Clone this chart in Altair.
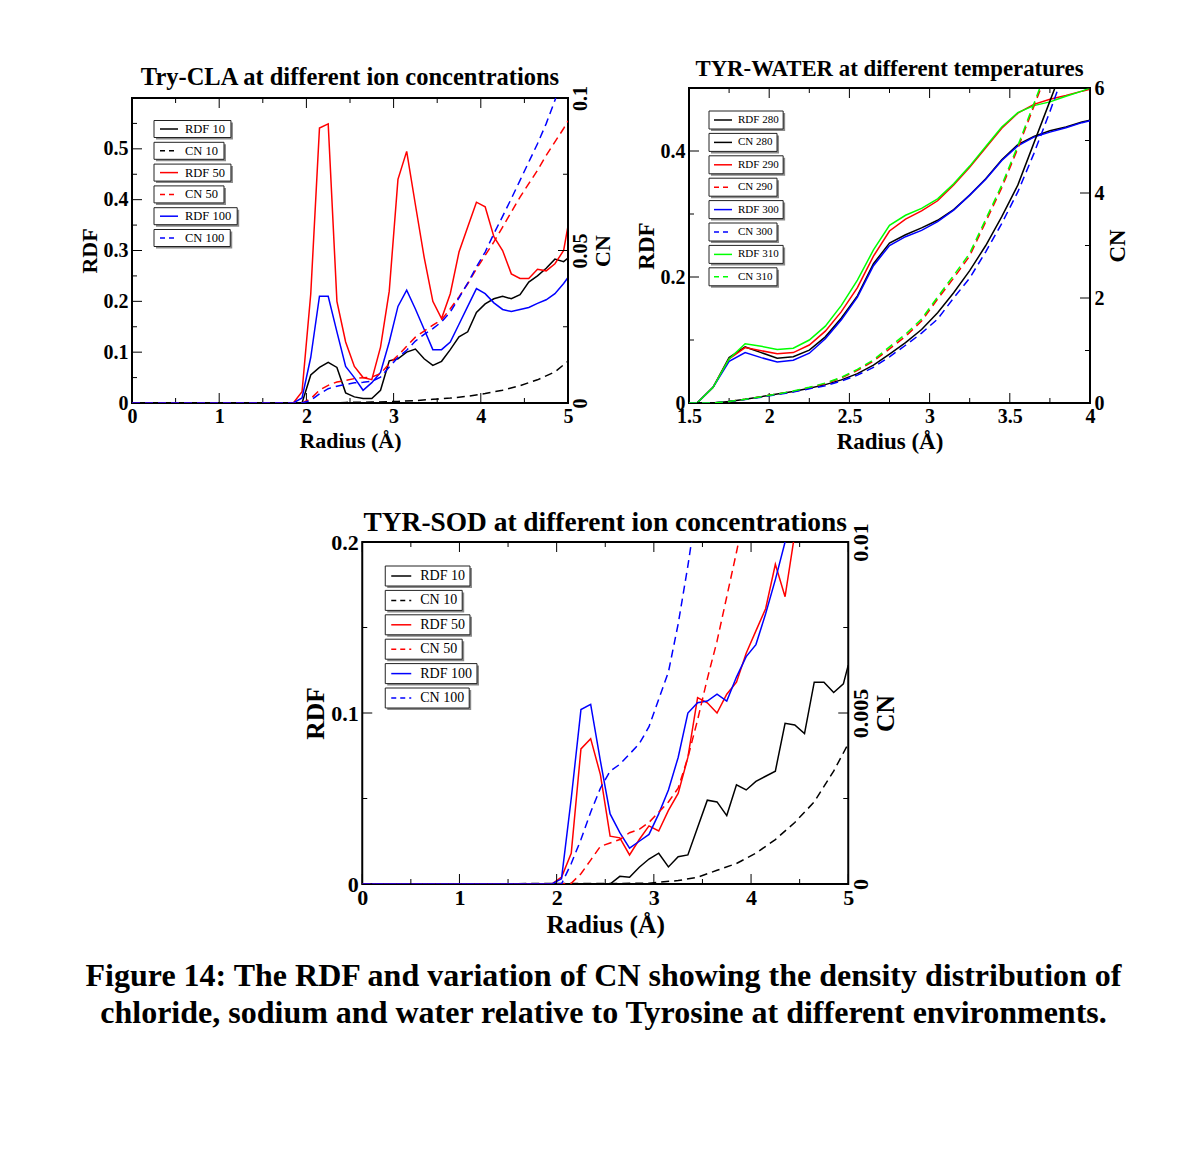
import altair as alt
import pandas as pd

FONT = "Liberation Serif"
BLACK, RED, BLUE, GREEN = "#000000", "#ff0000", "#0000ff", "#00ff00"
DASH = [8, 5]

# ---------------- Panel 1: Try-CLA ----------------
R_CLA = [0.0, 1.85, 1.95, 2.05, 2.15, 2.25, 2.35, 2.45, 2.55, 2.65, 2.75, 2.85,
         2.95, 3.05, 3.15, 3.25, 3.35, 3.45, 3.55, 3.65, 3.75, 3.85, 3.95, 4.05,
         4.15, 4.25, 4.35, 4.45, 4.55, 4.65, 4.75, 4.85, 4.95, 5.0]
RDF_CLA_10 = [0, 0, 0.0, 0.055, 0.07, 0.08, 0.07, 0.02, 0.012, 0.009, 0.009, 0.025,
              0.083, 0.087, 0.1, 0.106, 0.087, 0.074, 0.082, 0.105, 0.13, 0.14, 0.178, 0.195,
              0.205, 0.21, 0.205, 0.213, 0.238, 0.25, 0.265, 0.283, 0.278, 0.285]
RDF_CLA_50 = [0, 0, 0.022, 0.215, 0.541, 0.549, 0.2, 0.12, 0.072, 0.05, 0.046, 0.11,
              0.22, 0.44, 0.495, 0.39, 0.287, 0.2, 0.166, 0.215, 0.297, 0.346, 0.395, 0.386,
              0.327, 0.30, 0.254, 0.245, 0.245, 0.263, 0.26, 0.274, 0.30, 0.348]
RDF_CLA_100 = [0, 0, 0.01, 0.09, 0.21, 0.21, 0.14, 0.072, 0.05, 0.025, 0.04, 0.06,
               0.12, 0.19, 0.222, 0.185, 0.145, 0.105, 0.105, 0.12, 0.155, 0.19, 0.225, 0.215,
               0.197, 0.184, 0.18, 0.184, 0.188, 0.196, 0.203, 0.215, 0.235, 0.247]
R_CLA_CN10 = [0.0, 2.35, 2.45, 2.75, 3.05, 3.25, 3.45, 3.65, 3.85, 4.05, 4.25, 4.45, 4.65, 4.85, 5.0]
CN_CLA_10 = [0, 0, 0.0002, 0.0003, 0.0005, 0.0008, 0.0012, 0.0016, 0.0022, 0.0031, 0.0042,
             0.0057, 0.0076, 0.0102, 0.0137]
CN_CLA_50 = [0, 0, 0, 0.0014, 0.0042, 0.0058, 0.0069, 0.0074, 0.008, 0.0083, 0.0085, 0.0096,
             0.0129, 0.0156, 0.0186, 0.0216, 0.0236, 0.0255, 0.0273, 0.0309, 0.0348, 0.0391, 0.044, 0.0484,
             0.0528, 0.0577, 0.0626, 0.0675, 0.0719, 0.0763, 0.0812, 0.0856, 0.09, 0.0925]
R_CLA_CN100 = [0.0, 1.85, 1.95, 2.05, 2.15, 2.25, 2.35, 2.45, 2.55, 2.65, 2.75, 2.85,
               2.95, 3.05, 3.15, 3.25, 3.35, 3.45, 3.55, 3.65, 3.75, 3.85, 3.95, 4.05,
               4.15, 4.25, 4.35, 4.45, 4.55, 4.65, 4.75, 4.86]
CN_CLA_100 = [0, 0, 0, 0.0009, 0.003, 0.0047, 0.0055, 0.0061, 0.0066, 0.0068, 0.0071, 0.0085,
              0.0118, 0.0149, 0.0173, 0.0203, 0.0225, 0.0244, 0.0266, 0.0298, 0.0345, 0.0393, 0.0446, 0.0495,
              0.0555, 0.0612, 0.067, 0.073, 0.079, 0.085, 0.0916, 0.1]

# ---------------- Panel 2: TYR-WATER ----------------
R_WAT = [1.5, 1.55, 1.65, 1.75, 1.85, 1.95, 2.05, 2.15, 2.25, 2.35, 2.45, 2.55, 2.65,
         2.75, 2.85, 2.95, 3.05, 3.15, 3.25, 3.35, 3.45, 3.55, 3.65, 3.75, 3.85, 3.95, 4.0]
RDF_280 = [0, 0, 0.025, 0.072, 0.089, 0.08, 0.071, 0.0735, 0.084, 0.105, 0.135, 0.17, 0.221,
           0.254, 0.267, 0.278, 0.29, 0.307, 0.33, 0.356, 0.386, 0.41, 0.423, 0.432, 0.438, 0.446, 0.449]
CN_280 = [0, 0, 0, 0.03, 0.07, 0.12, 0.17, 0.22, 0.28, 0.35, 0.44, 0.56, 0.72,
          0.93, 1.15, 1.4, 1.72, 2.1, 2.52, 3.0, 3.55, 4.15, 4.95, 5.75, 6.55, 7.35, 7.75]
RDF_290 = [0, 0, 0.025, 0.07, 0.088, 0.083, 0.078, 0.08, 0.092, 0.114, 0.145, 0.183, 0.233,
           0.273, 0.292, 0.305, 0.321, 0.346, 0.374, 0.405, 0.436, 0.46, 0.474, 0.482, 0.488, 0.495, 0.498]
CN_290 = [0, 0, 0, 0.03, 0.07, 0.12, 0.17, 0.22, 0.29, 0.37, 0.48, 0.62, 0.8,
          1.03, 1.27, 1.56, 1.98, 2.38, 2.8, 3.45, 4.1, 4.85, 5.65, 6.45, 7.3, 8.1, 8.5]
RDF_300 = [0, 0, 0.025, 0.066, 0.08, 0.072, 0.065, 0.068, 0.079, 0.102, 0.132, 0.168, 0.218,
           0.25, 0.264, 0.274, 0.288, 0.306, 0.33, 0.355, 0.385, 0.408, 0.422, 0.43, 0.437, 0.445, 0.448]
CN_300 = [0, 0, 0, 0.03, 0.065, 0.11, 0.16, 0.21, 0.27, 0.33, 0.42, 0.53, 0.68,
          0.88, 1.1, 1.33, 1.6, 2.0, 2.38, 2.88, 3.42, 4.02, 4.75, 5.55, 6.4, 7.2, 7.6]
RDF_310 = [0, 0, 0.025, 0.07, 0.094, 0.09, 0.085, 0.087, 0.1, 0.122, 0.155, 0.195, 0.243,
           0.282, 0.298, 0.309, 0.324, 0.348, 0.376, 0.407, 0.438, 0.461, 0.472, 0.478, 0.487, 0.495, 0.5]
CN_310 = [0, 0, 0, 0.03, 0.07, 0.12, 0.17, 0.23, 0.3, 0.38, 0.49, 0.64, 0.82,
          1.07, 1.31, 1.6, 2.02, 2.43, 2.85, 3.5, 4.15, 4.9, 5.7, 6.5, 7.35, 8.15, 8.55]

# ---------------- Panel 3: TYR-SOD ----------------
R_SOD = [0.0, 1.95, 2.05, 2.15, 2.25, 2.35, 2.45, 2.55, 2.65, 2.75, 2.85, 2.95, 3.05,
         3.15, 3.25, 3.35, 3.45, 3.55, 3.65, 3.75, 3.85, 3.95, 4.05, 4.15, 4.25, 4.35,
         4.45, 4.55, 4.65, 4.75, 4.85, 4.95, 5.0]
RDF_SOD_10 = [0, 0, 0, 0, 0, 0, 0, 0, 0.0045, 0.004, 0.0098, 0.0146, 0.018,
              0.01, 0.016, 0.017, 0.033, 0.049, 0.048, 0.04, 0.058, 0.055, 0.06, 0.063, 0.066, 0.094,
              0.093, 0.088, 0.118, 0.118, 0.112, 0.117, 0.128]
RDF_SOD_50 = [0, 0, 0.004, 0.018, 0.079, 0.085, 0.064, 0.028, 0.027, 0.017, 0.026, 0.034, 0.031,
              0.043, 0.053, 0.074, 0.109, 0.106, 0.1, 0.111, 0.118, 0.135, 0.148, 0.161, 0.187, 0.168,
              0.205]
RDF_SOD_100 = [0, 0, 0.003, 0.05, 0.102, 0.105, 0.072, 0.041, 0.03, 0.021, 0.025, 0.029, 0.041,
               0.055, 0.074, 0.1, 0.106, 0.107, 0.111, 0.107, 0.121, 0.133, 0.14, 0.158, 0.178, 0.2]
R_SOD_CN10 = [0.0, 2.95, 3.05, 3.25, 3.45, 3.65, 3.85, 4.05, 4.25, 4.45, 4.65, 4.85, 5.0]
CN_SOD_10 = [0, 0.00002, 0.00005, 0.0001, 0.0002, 0.0004, 0.0006, 0.0009, 0.0013, 0.0018,
             0.0024, 0.0033, 0.0041]
CN_SOD_50 = [0, 0, 0, 0.00002, 0.0003, 0.0007, 0.0011, 0.0012, 0.0013, 0.0015, 0.0016, 0.0018,
             0.0021, 0.0024, 0.0028, 0.0037, 0.0048, 0.006, 0.0071, 0.0084, 0.0097, 0.0111]
CN_SOD_100 = [0, 0, 0, 0.0006, 0.0013, 0.0021, 0.0028, 0.0033, 0.0035, 0.0038, 0.0041, 0.0046,
              0.0054, 0.0062, 0.0076, 0.0093, 0.0112, 0.013]

CAPTION = ["Figure 14: The RDF and variation of CN showing the density distribution of",
           "chloride, sodium and water relative to Tyrosine at different environments."]


def text_w(s, size):
    w = {"R": 0.667, "D": 0.722, "F": 0.556, "C": 0.667, "N": 0.722, " ": 0.25}
    return sum(w.get(ch, 0.5) for ch in s) * size


def make_panel(p):
    W, H = p["W"], p["H"]
    tp = p.get("top_pad", 0)          # blank strip above the frame (layout alignment)
    HV = H + tp
    xd, yd, cd = p["xdom"], p["ydom"], p["cdom"]
    ydv = [yd[0], yd[0] + (yd[1] - yd[0]) * HV / H]
    cdv = [cd[0], cd[0] + (cd[1] - cd[0]) * HV / H]
    xs = alt.Scale(domain=xd, nice=False, zero=False)
    ys = alt.Scale(domain=ydv, nice=False, zero=False)
    cs = alt.Scale(domain=cdv, nice=False, zero=False)
    ls, ts = p["label_size"], p["title_size"]
    common = dict(grid=False, ticks=False, domain=False, labelFont=FONT, labelFontSize=ls,
                  labelFontWeight="bold", labelColor="black", labelOverlap=False, labelFlush=False,
                  titleFont=FONT, titleFontSize=ts, titleFontWeight="bold", titleColor="black")
    vt = {"titleY": tp + H / 2} if tp else {}
    xaxis = alt.Axis(values=p["xmaj"], format="~g", title="Radius (Å)", orient="bottom",
                     labelPadding=3, titlePadding=p["xtp"], **common)
    yaxis = alt.Axis(values=p["ymaj"], format="~g", title="RDF", orient="left",
                     labelPadding=4, titlePadding=p["ytp"], **vt, **common)
    if p["c_rot"]:
        caxis = alt.Axis(values=p["cmaj"], format="~g", title="CN", orient="right",
                         labelAngle=270, labelAlign="center", labelBaseline="top",
                         labelPadding=2, titleAngle=270, titleBaseline="top",
                         titlePadding=p["ctp"], **vt, **common)
    else:
        caxis = alt.Axis(values=p["cmaj"], format="~g", title="CN", orient="right",
                         labelAngle=0, labelAlign="left", labelBaseline="middle",
                         labelPadding=4, titleAngle=270, titleBaseline="top",
                         titlePadding=p["ctp"], **vt, **common)

    X = alt.X("r:Q", scale=xs, axis=xaxis)
    left, right = [], []
    for s in p["series"]:
        df = pd.DataFrame({"r": s["r"], "v": s["v"]})
        kw = dict(color=s["color"], strokeWidth=1.5, clip=True)
        if s["dash"]:
            kw["strokeDash"] = DASH
        m = alt.Chart(df).mark_line(**kw)
        if s["kind"] == "rdf":
            left.append(m.encode(x=X, y=alt.Y("v:Q", scale=ys, axis=yaxis)))
        else:
            right.append(m.encode(x=X, y=alt.Y("v:Q", scale=cs, axis=caxis)))

    # frame drawn as a mark when the view has a blank strip on top
    if tp:
        fdf = pd.DataFrame({"x1": [xd[0]], "x2": [xd[1]], "y1": [yd[0]], "y2": [yd[1]]})
        left.append(alt.Chart(fdf).mark_rect(fillOpacity=0, stroke="black", strokeWidth=2)
                    .encode(x=alt.X("x1:Q", scale=xs, axis=xaxis), x2="x2:Q",
                            y=alt.Y("y1:Q", scale=ys, axis=yaxis), y2="y2:Q"))

    # inward ticks
    def tdf(vals):
        return pd.DataFrame({"t": vals})
    XT = alt.X("t:Q", scale=xs, axis=xaxis)
    YT = alt.Y("t:Q", scale=ys, axis=yaxis)
    CT = alt.Y("t:Q", scale=cs, axis=caxis)
    rule = dict(color="black", strokeWidth=1)
    for vals, ln in ((p["xmaj"], 10), (p["xmin"], 5)):
        left.append(alt.Chart(tdf(vals)).mark_rule(**rule).encode(x=XT, y=alt.value(HV), y2=alt.value(HV - ln)))
        left.append(alt.Chart(tdf(vals)).mark_rule(**rule).encode(x=XT, y=alt.value(tp), y2=alt.value(tp + ln)))
    for vals, ln in ((p["ymaj"], 10), (p["ymin"], 5)):
        left.append(alt.Chart(tdf(vals)).mark_rule(**rule).encode(y=YT, x=alt.value(0), x2=alt.value(ln)))
    for vals, ln in ((p["cmaj"], 10), (p["cmin"], 5)):
        right.append(alt.Chart(tdf(vals)).mark_rule(**rule).encode(y=CT, x=alt.value(W), x2=alt.value(W - ln)))

    # legend (positioned inside the frame, converted to data units)
    L = p["legend"]
    def dx(px):
        return xd[0] + px / W * (xd[1] - xd[0])
    def dy(py):
        return yd[1] - py / H * (yd[1] - yd[0])
    rows = []
    for i, s in enumerate(p["series"]):
        cy = L["cy0"] + i * L["step"]
        rows.append({"x1": dx(L["x"]), "x2": dx(L["tx"] + text_w(s["name"], L["fs"]) + L["pad"]),
                     "y1": dy(cy - L["h"] / 2), "y2": dy(cy + L["h"] / 2),
                     "tx": dx(L["tx"]), "cy": dy(cy), "label": s["name"]})
    ldf = pd.DataFrame(rows)
    LX = alt.X("x1:Q", scale=xs, axis=xaxis)
    LY = alt.Y("y1:Q", scale=ys, axis=yaxis)
    left.append(alt.Chart(ldf).mark_rect(fill="#8a8a8a", xOffset=2, x2Offset=2, yOffset=2, y2Offset=2)
                .encode(x=LX, x2="x2:Q", y=LY, y2="y2:Q"))
    left.append(alt.Chart(ldf).mark_rect(fill="white", stroke="#222222", strokeWidth=1)
                .encode(x=LX, x2="x2:Q", y=LY, y2="y2:Q"))
    left.append(alt.Chart(ldf).mark_text(align="left", baseline="middle", font=FONT,
                                         fontSize=L["fs"], color="black")
                .encode(x=alt.X("tx:Q", scale=xs, axis=xaxis), y=alt.Y("cy:Q", scale=ys, axis=yaxis),
                        text="label:N"))
    for i, s in enumerate(p["series"]):
        cy = L["cy0"] + i * L["step"]
        sdf = pd.DataFrame({"a": [dx(L["lx1"])], "b": [dx(L["lx2"])], "c": [dy(cy)]})
        kw = dict(color=s["color"], strokeWidth=1.5)
        if s["dash"]:
            kw["strokeDash"] = [5, 4]
        left.append(alt.Chart(sdf).mark_rule(**kw).encode(
            x=alt.X("a:Q", scale=xs, axis=xaxis), x2="b:Q", y=alt.Y("c:Q", scale=ys, axis=yaxis)))

    # optional white spacer that widens the panel's left margin (for centring)
    if p.get("spacer_x") is not None:
        left.append(alt.Chart(pd.DataFrame({"s": ["."]})).mark_text(
            align="right", baseline="middle", font=FONT, fontSize=24, color="white")
            .encode(x=alt.value(p["spacer_x"]), y=alt.value(HV / 2), text="s:N"))

    ch = alt.layer(alt.layer(*left), alt.layer(*right)).resolve_scale(y="independent")
    props = dict(width=W, height=HV, title=p["title"])
    if tp:
        props["view"] = alt.ViewBackground(stroke="transparent")
    return ch.properties(**props)


def ser(name, kind, r, v, color, dash):
    return {"name": name, "kind": kind, "r": r, "v": v, "color": color, "dash": dash}


p1 = make_panel({
    "W": 436, "H": 305, "top_pad": 10, "xdom": [0, 5], "ydom": [0, 0.6], "cdom": [0, 0.1],
    "xmaj": [0, 1, 2, 3, 4, 5], "xmin": [0.5, 1.5, 2.5, 3.5, 4.5],
    "ymaj": [0, 0.1, 0.2, 0.3, 0.4, 0.5], "ymin": [0.05, 0.15, 0.25, 0.35, 0.45, 0.55],
    "cmaj": [0, 0.05, 0.1], "cmin": [0.025, 0.075], "c_rot": True,
    "label_size": 20, "title_size": 22, "xtp": 4, "ytp": 2, "ctp": 2,
    "series": [ser("RDF 10", "rdf", R_CLA, RDF_CLA_10, BLACK, False),
               ser("CN 10", "cn", R_CLA_CN10, CN_CLA_10, BLACK, True),
               ser("RDF 50", "rdf", R_CLA, RDF_CLA_50, RED, False),
               ser("CN 50", "cn", R_CLA, CN_CLA_50, RED, True),
               ser("RDF 100", "rdf", R_CLA, RDF_CLA_100, BLUE, False),
               ser("CN 100", "cn", R_CLA_CN100, CN_CLA_100, BLUE, True)],
    "legend": {"x": 22, "cy0": 31, "step": 21.8, "h": 17, "fs": 12.5, "tx": 53, "lx1": 28, "lx2": 46, "pad": 6},
    "title": alt.TitleParams(text="Try-CLA at different ion concentrations", frame="group",
                             font=FONT, fontSize=24.5, fontWeight="bold", color="black", offset=0, dy=5),
})

p2 = make_panel({
    "W": 401, "H": 315, "xdom": [1.5, 4], "ydom": [0, 0.5], "cdom": [0, 6],
    "xmaj": [1.5, 2, 2.5, 3, 3.5, 4], "xmin": [1.75, 2.25, 2.75, 3.25, 3.75],
    "ymaj": [0, 0.2, 0.4], "ymin": [0.1, 0.3],
    "cmaj": [0, 2, 4, 6], "cmin": [1, 3, 5], "c_rot": False,
    "label_size": 20, "title_size": 23, "xtp": 4, "ytp": 2, "ctp": 2,
    "series": [ser("RDF 280", "rdf", R_WAT, RDF_280, BLACK, False),
               ser("CN 280", "cn", R_WAT, CN_280, BLACK, False),
               ser("RDF 290", "rdf", R_WAT, RDF_290, RED, False),
               ser("CN 290", "cn", R_WAT, CN_290, RED, True),
               ser("RDF 300", "rdf", R_WAT, RDF_300, BLUE, False),
               ser("CN 300", "cn", R_WAT, CN_300, BLUE, True),
               ser("RDF 310", "rdf", R_WAT, RDF_310, GREEN, False),
               ser("CN 310", "cn", R_WAT, CN_310, GREEN, True)],
    "legend": {"x": 20, "cy0": 32, "step": 22.4, "h": 18, "fs": 11, "tx": 49, "lx1": 25, "lx2": 43, "pad": 4.5},
    "title": alt.TitleParams(text="TYR-WATER at different temperatures", frame="group",
                             font=FONT, fontSize=22.8, fontWeight="bold", color="black", offset=0, dy=3),
})

p3 = make_panel({
    "W": 486, "H": 342, "xdom": [0, 5], "ydom": [0, 0.2], "cdom": [0, 0.01],
    "xmaj": [0, 1, 2, 3, 4, 5], "xmin": [0.5, 1.5, 2.5, 3.5, 4.5],
    "ymaj": [0, 0.1, 0.2], "ymin": [0.05, 0.15],
    "cmaj": [0, 0.005, 0.01], "cmin": [0.0025, 0.0075], "c_rot": True,
    "label_size": 22, "title_size": 25.5, "xtp": 4, "ytp": 2, "ctp": 2,
    "spacer_x": -62,
    "series": [ser("RDF 10", "rdf", R_SOD, RDF_SOD_10, BLACK, False),
               ser("CN 10", "cn", R_SOD_CN10, CN_SOD_10, BLACK, True),
               ser("RDF 50", "rdf", R_SOD[:27], RDF_SOD_50, RED, False),
               ser("CN 50", "cn", R_SOD[:22], CN_SOD_50, RED, True),
               ser("RDF 100", "rdf", R_SOD[:26], RDF_SOD_100, BLUE, False),
               ser("CN 100", "cn", R_SOD[:18], CN_SOD_100, BLUE, True)],
    "legend": {"x": 23, "cy0": 34, "step": 24.4, "h": 20, "fs": 14, "tx": 58, "lx1": 29, "lx2": 49, "pad": 5},
    "title": alt.TitleParams(text="TYR-SOD at different ion concentrations", frame="group",
                             font=FONT, fontSize=27.4, fontWeight="bold", color="black", offset=0, dy=14),
})

top = alt.hconcat(p1, p2, spacing=20)
chart = alt.vconcat(top, p3, spacing=54, center=True).properties(
    title=alt.TitleParams(text=CAPTION, orient="bottom", anchor="middle", font=FONT, fontSize=32,
                          fontWeight="bold", color="black", lineHeight=37, offset=22),
    padding={"left": 69, "top": 49, "right": 5, "bottom": 5},
    background="white",
).configure_view(stroke="black", strokeWidth=2)

chart.save("out.html", embed_options={"renderer": "svg", "actions": False})
